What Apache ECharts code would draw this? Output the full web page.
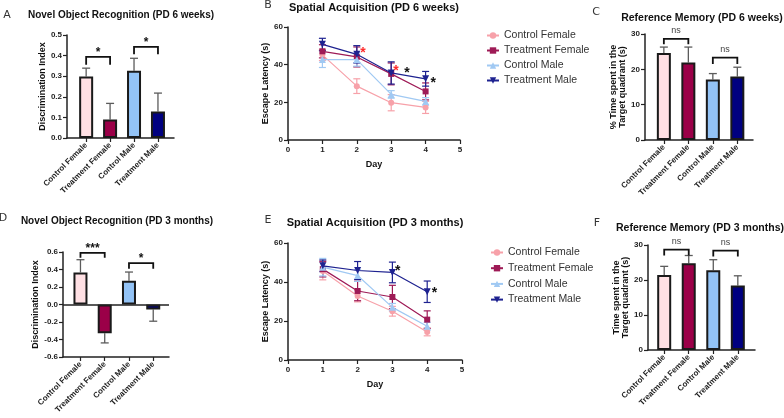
<!DOCTYPE html>
<html><head><meta charset="utf-8">
<script src="https://cdn.jsdelivr.net/npm/echarts@6/dist/echarts.min.js"></script>
<style>html,body{margin:0;padding:0;background:#fff}#c{width:784px;height:418px}</style>
</head><body><div id="c"></div>
<script>
// ---------- data ----------
const groups = ['Control Female','Treatment Female','Control Male','Treatment Male'];
const days = [1,2,3,4];

// A: Novel Object Recognition (PD 6 weeks)
const norA = [0.298, 0.090, 0.327, 0.129];
const norAErr = [0.041, 0.078, 0.060, 0.089];
const norABrackets = [[1,2,0.394,0.355],[3,4,0.442,0.406]];
const norABracketLabels = ['*','*'];

// D: Novel Object Recognition (PD 3 months)
const norD = [0.367, -0.329, 0.271, -0.057];
const norDErr = [0.145, 0.110, 0.100, 0.134];
const norDBrackets = [[1,2,0.589,0.535],[3,4,0.474,0.41]];
const norDBracketLabels = ['***','*'];

// C: Reference Memory (PD 6 weeks)
const refC = [24.6, 21.9, 17.1, 18.0];
const refCErr = [1.7, 4.4, 1.7, 2.6];
const refCBrackets = [[1,2,28.6,27.1],[3,4,23.3,21.5]];
const refCBracketLabels = ['ns','ns'];

// F: Reference Memory (PD 3 months)
const refF = [21.4, 24.8, 22.8, 18.4];
const refFErr = [2.5, 2.2, 3.0, 2.8];
const refFBrackets = [[1,2,28.7,27.0],[3,4,28.4,26.7]];
const refFBracketLabels = ['ns','ns'];

// B: Spatial Acquisition (PD 6 weeks) – escape latency per day
const spB_CF = [45.2, 28.6, 19.8, 17.3];
const spB_TF = [47.1, 44.1, 35.1, 25.8];
const spB_CM = [42.7, 42.7, 24.2, 20.5];
const spB_TM = [50.8, 45.5, 35.6, 32.5];
const spB_CF_err = [3.0, 3.9, 4.3, 3.2];
const spB_TF_err = [3.5, 5.3, 5.8, 4.5];
const spB_CM_err = [4.2, 3.5, 2.0, 2.0];
const spB_TM_err = [3.2, 4.6, 5.9, 3.9];
const spB_starsRed = [[2.18,47.6],[3.14,38.3]];
const spB_starsBlack = [[3.46,37.0],[4.22,31.8]];

// E: Spatial Acquisition (PD 3 months)
const spE_CF = [45.6, 32.8, 25.0, 14.4];
const spE_TF = [46.6, 35.4, 32.3, 20.7];
const spE_CM = [47.6, 43.3, 27.0, 17.3];
const spE_TM = [48.3, 45.9, 44.9, 35.0];
const spE_CF_err = [4.5, 3.0, 2.5, 2.0];
const spE_TF_err = [4.0, 5.0, 6.0, 4.5];
const spE_CM_err = [4.5, 3.0, 2.0, 2.0];
const spE_TM_err = [3.0, 4.6, 5.3, 5.5];
const spE_starsBlack = [[3.15,47.1],[4.21,35.9]];

// ---------- styles ----------
const FONT = 'Liberation Sans, Arial, Helvetica, sans-serif';
const AX = '#222';
const barColors = ['#FFE0E4','#9B0048','#93C3F6','#000080'];
const lineColors = ['#F7A1A9','#9E1A56','#A0C9F3','#1E2290'];
const lineSymbols = ['circle','rect','triangle','path://M0,0L10,0L5,9Z'];
const lineSymbolSizes = [6,6,7,7];

const grids = [
  {left:67, top:35, width:107, height:103},   // A
  {left:288, top:27, width:172, height:113},  // B
  {left:645, top:34, width:108, height:106},  // C
  {left:63, top:252, width:106, height:105},  // D
  {left:288, top:243, width:174, height:117}, // E
  {left:648, top:245, width:107, height:105}  // F
];

const xAxes = [], yAxes = [], series = [];

function barXAxis(gi, min, max){
  return {type:'value', gridIndex:gi, min:min, max:max,
    axisLine:{show:true, onZero:false, lineStyle:{color:AX, width:1.5}},
    axisTick:{show:true, customValues:days, length:4, lineStyle:{color:AX, width:1.2}},
    axisLabel:{customValues:days, formatter:v=>groups[Math.round(v)-1]||'', rotate:45, fontSize:8, fontWeight:'bold', color:'#222', fontFamily:FONT, margin:6},
    splitLine:{show:false}};
}
function yAxisCfg(gi, min, max, interval, name, gap, fmt){
  return {type:'value', gridIndex:gi, min:min, max:max, interval:interval,
    name:name, nameLocation:'middle', nameGap:gap,
    nameTextStyle:{fontSize:9, fontWeight:'bold', color:'#111', fontFamily:FONT, lineHeight:9},
    axisLine:{show:true, onZero:false, lineStyle:{color:AX, width:1.5}},
    axisTick:{show:true, length:4, lineStyle:{color:AX, width:1.2}},
    axisLabel:{fontSize:8, fontWeight:'bold', color:'#222', fontFamily:FONT, margin:5, formatter:fmt},
    splitLine:{show:false}};
}
function lineXAxis(gi){
  return {type:'value', gridIndex:gi, min:0, max:5, interval:1,
    name:'Day', nameLocation:'middle', nameGap:20,
    nameTextStyle:{fontSize:9, fontWeight:'bold', color:'#111', fontFamily:FONT},
    axisLine:{show:true, onZero:false, lineStyle:{color:AX, width:1.5}},
    axisTick:{show:true, length:4, lineStyle:{color:AX, width:1.2}},
    axisLabel:{fontSize:8, fontWeight:'bold', color:'#222', fontFamily:FONT, margin:6},
    splitLine:{show:false}};
}

function addBarPanel(gi, vals, errs, brackets, labels, withZero){
  series.push({type:'custom', xAxisIndex:gi, yAxisIndex:gi, z:1, silent:true,
    data: vals.map((v,i)=>[i+1, v, errs[i]]),
    renderItem:function(params, api){
      const x=api.value(0), v=api.value(1), e=api.value(2);
      const end = v + (v>=0 ? e : -e);
      const p0=api.coord([x,v]), p1=api.coord([x,end]);
      const st={stroke:'#5c5c5c', lineWidth:1.3};
      return {type:'group', children:[
        {type:'line', shape:{x1:p0[0],y1:p0[1],x2:p1[0],y2:p1[1]}, style:st},
        {type:'line', shape:{x1:p1[0]-4,y1:p1[1],x2:p1[0]+4,y2:p1[1]}, style:st}
      ]};
    }});
  const bar = {type:'bar', xAxisIndex:gi, yAxisIndex:gi, z:2, barWidth:14, silent:true,
    data: vals.map((v,i)=>({value:[i+1, v], itemStyle:{color:barColors[i]}})),
    itemStyle:{borderColor:'#1a1a1a', borderWidth:2}};
  if (withZero){
    bar.markLine = {symbol:'none', silent:true, label:{show:false},
      lineStyle:{color:AX, width:1.5, type:'solid'}, data:[{yAxis:0}]};
  }
  series.push(bar);
  series.push({type:'custom', xAxisIndex:gi, yAxisIndex:gi, z:3, silent:true,
    data: brackets,
    renderItem:function(params, api){
      const x1=api.value(0), x2=api.value(1), yb=api.value(2), yl=api.value(3);
      const a=api.coord([x1,yl]), b=api.coord([x1,yb]), c=api.coord([x2,yb]), d=api.coord([x2,yl]);
      const lab = labels[params.dataIndex];
      const isNs = lab==='ns';
      return {type:'group', children:[
        {type:'polyline', shape:{points:[a,b,c,d]}, style:{stroke:'#111', lineWidth:1.8, fill:null}},
        {type:'text', x:(b[0]+c[0])/2, y:b[1]-(isNs?8:4),
          style:{text:lab, align:'center', verticalAlign:'middle',
            fontSize:isNs?9:12, fontWeight:isNs?'normal':'bold', fontFamily:FONT, fill:isNs?'#444':'#111'}}
      ]};
    }});
}

function addLinePanel(gi, sets, errSets, starsRed, starsBlack){
  sets.forEach((vals, k)=>{
    const col = lineColors[k];
    series.push({type:'custom', xAxisIndex:gi, yAxisIndex:gi, z:1, silent:true,
      data: vals.map((v,i)=>[days[i], v, errSets[k][i]]),
      renderItem:function(params, api){
        const x=api.value(0), v=api.value(1), e=api.value(2);
        const p0=api.coord([x,v-e]), p1=api.coord([x,v+e]);
        const st={stroke:col, lineWidth:1.2};
        return {type:'group', children:[
          {type:'line', shape:{x1:p0[0],y1:p0[1],x2:p1[0],y2:p1[1]}, style:st},
          {type:'line', shape:{x1:p0[0]-3.5,y1:p0[1],x2:p0[0]+3.5,y2:p0[1]}, style:st},
          {type:'line', shape:{x1:p1[0]-3.5,y1:p1[1],x2:p1[0]+3.5,y2:p1[1]}, style:st}
        ]};
      }});
    series.push({type:'line', name:groups[k], xAxisIndex:gi, yAxisIndex:gi, z:2+k*0.1,
      data: vals.map((v,i)=>[days[i], v]),
      symbol:lineSymbols[k], symbolSize:lineSymbolSizes[k], showSymbol:true,
      lineStyle:{color:col, width:1.2}, itemStyle:{color:col}, animation:false});
  });
  const starSeries = (pts, color)=>({type:'custom', xAxisIndex:gi, yAxisIndex:gi, z:5, silent:true,
    data: pts,
    renderItem:function(params, api){
      const p=api.coord([api.value(0), api.value(1)]);
      return {type:'text', x:p[0], y:p[1]+3,
        style:{text:'*', align:'center', verticalAlign:'middle', fontSize:14, fontWeight:'bold', fontFamily:FONT, fill:color}};
    }});
  if (starsRed.length) series.push(starSeries(starsRed, '#FF2A2A'));
  if (starsBlack.length) series.push(starSeries(starsBlack, '#111'));
}

// A
xAxes.push(barXAxis(0, 0.2, 4.67));
yAxes.push(yAxisCfg(0, 0, 0.5, 0.1, 'Discrimination Index', 17, v=>v.toFixed(1)));
// B
xAxes.push(lineXAxis(1));
yAxes.push(yAxisCfg(1, 0, 60, 20, 'Escape Latency (s)', 17, v=>String(v)));
// C
xAxes.push(barXAxis(2, 0.23, 4.64));
yAxes.push(yAxisCfg(2, 0, 30, 10, '% Time spent in the\nTarget quadrant (s)', 13, v=>String(v)));
// D
xAxes.push(barXAxis(3, 0.28, 4.65));
yAxes.push(yAxisCfg(3, -0.6, 0.6, 0.2, 'Discrimination Index', 21, v=>v.toFixed(1)));
// E
xAxes.push(lineXAxis(4));
yAxes.push(yAxisCfg(4, 0, 60, 20, 'Escape Latency (s)', 17, v=>String(v)));
// F
xAxes.push(barXAxis(5, 0.34, 4.7));
yAxes.push(yAxisCfg(5, 0, 30, 10, 'Time spent in the\nTarget quadrant (s)', 16, v=>String(v)));

addBarPanel(0, norA, norAErr, norABrackets, norABracketLabels, false);
addLinePanel(1, [spB_CF, spB_TF, spB_CM, spB_TM], [spB_CF_err, spB_TF_err, spB_CM_err, spB_TM_err], spB_starsRed, spB_starsBlack);
addBarPanel(2, refC, refCErr, refCBrackets, refCBracketLabels, false);
addBarPanel(3, norD, norDErr, norDBrackets, norDBracketLabels, true);
addLinePanel(4, [spE_CF, spE_TF, spE_CM, spE_TM], [spE_CF_err, spE_TF_err, spE_CM_err, spE_TM_err], [], spE_starsBlack);
addBarPanel(5, refF, refFErr, refFBrackets, refFBracketLabels, false);

const titles = [
  ['Novel Object Recognition (PD 6 weeks)', 121, 15, 10],
  ['Spatial Acquisition (PD 6 weeks)', 374, 8, 11],
  ['Reference Memory (PD 6 weeks)', 702, 18, 10.5],
  ['Novel Object Recognition (PD 3 months)', 117, 221, 10],
  ['Spatial Acquisition (PD 3 months)', 375, 223, 11],
  ['Reference Memory (PD 3 months)', 700, 228, 10.5]
];
const letters = [['A',7,15],['B',268,5],['C',596,12],['D',3,218],['E',268,220],['F',597,223]];

const graphic = [];
titles.forEach(t=>graphic.push({type:'text', x:t[1], y:t[2], style:{text:t[0], align:'center', verticalAlign:'middle', fontSize:t[3], fontWeight:'bold', fontFamily:FONT, fill:'#111'}}));
letters.forEach(t=>graphic.push({type:'text', x:t[1], y:t[2], style:{text:t[0], align:'center', verticalAlign:'middle', fontSize:11, fontWeight:'normal', fontFamily:'DejaVu Sans, sans-serif', fill:'#333'}}));

function legendCfg(left, top, gap){
  return {orient:'vertical', left:left, top:top, itemWidth:12, itemHeight:8, itemGap:gap,
    data:groups, selectedMode:false,
    textStyle:{fontSize:10.5, color:'#333', fontFamily:FONT, padding:[0,0,0,0]}};
}

const chart = echarts.init(document.getElementById('c'), null, {renderer:'canvas'});
chart.setOption({
  animation:false,
  backgroundColor:'#fff',
  grid:grids,
  xAxis:xAxes,
  yAxis:yAxes,
  legend:[legendCfg(481, 25, 4), legendCfg(485, 242, 4.7)],
  graphic:graphic,
  series:series
});
</script></body></html>
